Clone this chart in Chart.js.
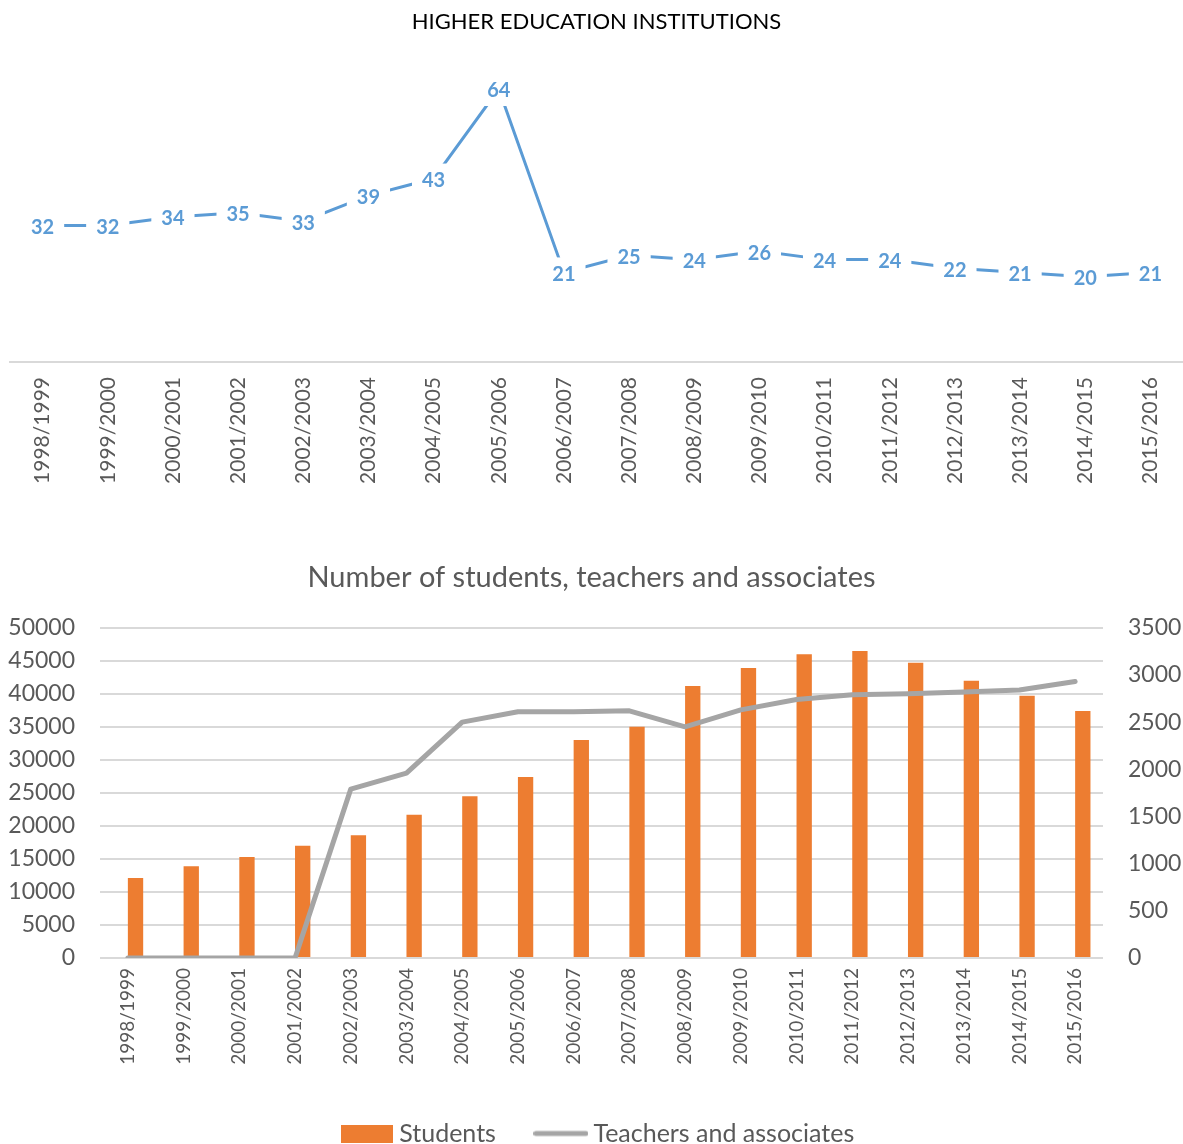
<!DOCTYPE html>
<html>
<head>
<meta charset="utf-8">
<script src="https://cdn.jsdelivr.net/npm/chart.js@4"></script>
<style>
  html, body { margin: 0; padding: 0; background: #fff; overflow: hidden; }
  #wrap { position: relative; width: 1183px; height: 1144px; }
  #top { position: absolute; left: 0; top: 0; }
  #bottom { position: absolute; left: 0; top: 550px; }
</style>
</head>
<body>
<div id="wrap">
  <div id="top" style="width:1183px;height:500px"><canvas id="instChart"></canvas></div>
  <div id="bottom" style="width:1183px;height:606px"><canvas id="peopleChart"></canvas></div>
</div>
<script>
const years = ['1998/1999', '1999/2000', '2000/2001', '2001/2002', '2002/2003', '2003/2004',
  '2004/2005', '2005/2006', '2006/2007', '2007/2008', '2008/2009', '2009/2010',
  '2010/2011', '2011/2012', '2012/2013', '2013/2014', '2014/2015', '2015/2016'];
const institutions = [32, 32, 34, 35, 33, 39, 43, 64, 21, 25, 24, 26, 24, 24, 22, 21, 20, 21];
const students = [12100, 13900, 15300, 17000, 18600, 21700, 24500, 27400, 33000, 35000,
  41200, 43900, 46000, 46500, 44700, 42000, 39700, 37400];
const teachers = [0, 0, 0, 0, 1790, 1960, 2500, 2610, 2610, 2620,
  2450, 2630, 2740, 2790, 2800, 2820, 2840, 2930];

const FONT = 'Lato';
const GREY_TEXT = '#595959';
const ORANGE = '#ED7D31';
const GREY_LINE = '#A5A5A5';
const plain = (v) => String(v); // no thousands separators, like the original

// legend swatches as little canvases so they can be wider than the text gap chart.js leaves
function swatch(w, h, draw) {
  const c = document.createElement('canvas');
  c.width = w; c.height = h;
  draw(c.getContext('2d'), w, h);
  return c;
}
const barSwatch = swatch(52, 18, (g, w, h) => { g.fillStyle = ORANGE; g.fillRect(0, 0, w, h); });
const lineSwatch = swatch(55, 18, (g, w, h) => {
  g.strokeStyle = GREY_LINE; g.lineWidth = 5; g.lineCap = 'round';
  g.beginPath(); g.moveTo(2.5, h / 2); g.lineTo(w - 2.5, h / 2); g.stroke();
});

// excel-ish labels sitting on the line with a white box behind them
const boxLabels = {
  id: 'boxLabels',
  afterDatasetsDraw(chart) {
    const ctx = chart.ctx;
    const meta = chart.getDatasetMeta(0);
    const data = chart.data.datasets[0].data;
    ctx.save();
    ctx.font = 'bold 20px ' + FONT;
    ctx.textAlign = 'center';
    ctx.textBaseline = 'middle';
    meta.data.forEach((pt, i) => {
      const txt = String(data[i]);
      const w = ctx.measureText(txt).width;
      ctx.fillStyle = '#fff';
      ctx.fillRect(pt.x - w / 2 - 10, pt.y - 15, w + 20, 32);
      ctx.fillStyle = '#5B9BD5';
      ctx.fillText(txt, pt.x, pt.y + 2);
    });
    ctx.restore();
  }
};

// legend sits a bit right of centre in the original (trailing item padding pulls it left here)
const nudgeLegend = {
  id: 'nudgeLegend',
  afterLayout(chart) {
    if (chart.legend) chart.legend.left += 18;
  }
};

new Chart(document.getElementById('instChart'), {
  type: 'line',
  data: {
    labels: years,
    datasets: [{
      data: institutions,
      borderColor: '#5B9BD5',
      borderWidth: 3,
      pointRadius: 0,
      tension: 0
    }]
  },
  options: {
    responsive: true,
    maintainAspectRatio: false,
    animation: false,
    layout: { padding: { left: 10, right: 0, top: 0, bottom: 0 } },
    plugins: {
      legend: { display: false },
      tooltip: { enabled: false },
      title: {
        display: true,
        text: 'HIGHER EDUCATION INSTITUTIONS',
        color: '#000',
        font: { family: FONT, size: 22, weight: 'normal' },
        padding: { top: 9, bottom: 28 }
      }
    },
    scales: {
      x: {
        offset: true,
        grid: { display: false },
        border: { display: true, color: '#D9D9D9', width: 2 },
        ticks: {
          color: GREY_TEXT,
          font: { family: FONT, size: 21 },
          minRotation: 90, maxRotation: 90,
          padding: 7,
          autoSkip: false
        },
        afterFit(s) { s.height = 138; }
      },
      y: { display: false, min: 0, max: 70 }
    }
  },
  plugins: [boxLabels]
});

new Chart(document.getElementById('peopleChart'), {
  data: {
    labels: years,
    datasets: [
      // empty slot so the orange bar sits right of the category centre like in excel
      { type: 'bar', label: '', data: years.map(() => null), yAxisID: 'y', order: 1 },
      { type: 'bar', label: 'Students', data: students, backgroundColor: ORANGE, yAxisID: 'y', order: 1 },
      { type: 'line', label: 'Teachers and associates', data: teachers, yAxisID: 'y1', order: 0,
        borderColor: GREY_LINE, backgroundColor: GREY_LINE, borderWidth: 5, pointRadius: 0, tension: 0,
        borderCapStyle: 'round', borderJoinStyle: 'round' }
    ]
  },
  options: {
    responsive: true,
    maintainAspectRatio: false,
    animation: false,
    datasets: { bar: { categoryPercentage: 0.55, barPercentage: 1 } },
    layout: { padding: 0 },
    plugins: {
      tooltip: { enabled: false },
      title: {
        display: true,
        text: 'Number of students, teachers and associates',
        color: GREY_TEXT,
        font: { family: FONT, size: 29, weight: 'normal' },
        padding: { top: 10, bottom: 33 }
      },
      legend: {
        position: 'bottom',
        labels: {
          color: GREY_TEXT,
          font: { family: FONT, size: 25 },
          usePointStyle: true,
          pointStyleWidth: 40,
          boxHeight: 18,
          padding: 45,
          filter: (item) => item.datasetIndex !== 0,
          sort: (a, b) => a.datasetIndex - b.datasetIndex,
          generateLabels(chart) {
            const items = Chart.defaults.plugins.legend.labels.generateLabels(chart);
            items.forEach(it => {
              it.pointStyle = it.datasetIndex === 2 ? lineSwatch : barSwatch;
              it.lineWidth = 0;
            });
            return items;
          }
        }
      }
    },
    scales: {
      x: {
        offset: true,
        grid: { display: false },
        border: { display: false },
        ticks: {
          color: GREY_TEXT,
          font: { family: FONT, size: 19 },
          minRotation: 90, maxRotation: 90,
          padding: 2,
          autoSkip: false
        },
        afterFit(s) { s.height = 118; }
      },
      y: {
        position: 'left',
        min: 0, max: 50000,
        ticks: { stepSize: 5000, color: GREY_TEXT, font: { family: FONT, size: 23 }, padding: 25, callback: plain },
        grid: { color: '#D9D9D9', lineWidth: 2, drawTicks: false },
        border: { display: false },
        afterFit(s) { s.width = 100; }
      },
      y1: {
        position: 'right',
        min: 0, max: 3500,
        ticks: { stepSize: 500, color: GREY_TEXT, font: { family: FONT, size: 23 }, padding: 25, callback: plain },
        grid: { drawOnChartArea: false, drawTicks: false },
        border: { display: false },
        afterFit(s) { s.width = 80; }
      }
    }
  },
  plugins: [nudgeLegend]
});
</script>
</body>
</html>
